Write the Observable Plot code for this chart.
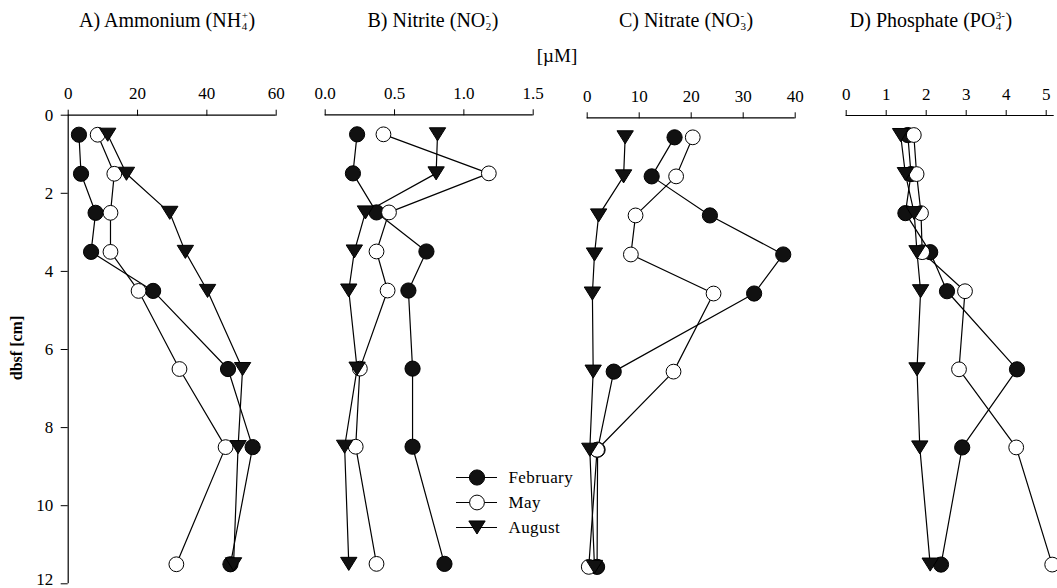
<!DOCTYPE html>
<html>
<head>
<meta charset="utf-8">
<script src="https://cdn.jsdelivr.net/npm/d3@7"></script>
<script src="https://cdn.jsdelivr.net/npm/@observablehq/plot@0.6"></script>
<style>
  body { margin: 0; background: #fff; }
  #fig { position: relative; width: 1057px; height: 588px; overflow: hidden;
         font-family: "Liberation Serif", "Times New Roman", serif; color: #000; background: #fff; }
  #fig svg { position: absolute; left: 0; top: 0; }
  .ttl { position: absolute; white-space: nowrap; font-size: 20px; line-height: 22px; transform: translateX(-50%); }
  .unit { font-size: 19px; line-height: 21px; }
  .ion { display: inline-block; vertical-align: -0.3em; font-size: 0.55em; line-height: 1; text-align: left; margin: 0 0.5px; }
  .ion span { display: block; }
  .ylab { position: absolute; font-weight: bold; font-size: 16px; white-space: nowrap;
          transform: translate(-50%, -50%) rotate(-90deg); }
</style>
</head>
<body>
<div id="fig"></div>
<script>
// Sampling depths below the sediment surface (cm) and sampling months
const depths = [0.5, 1.5, 2.5, 3.5, 4.5, 6.5, 8.5, 11.5];
const seasons = ["February", "May", "August"];
const depthTicks = [0, 2, 4, 6, 8, 10, 12];

// Porewater concentrations (µM), one value per depth
const ammoniumFeb = [3.1, 3.7, 7.9, 6.6, 24.5, 46.1, 53.2, 46.8];
const ammoniumMay = [8.5, 13.3, 12.2, 12.2, 20.3, 32.1, 45.4, 31.2];
const ammoniumAug = [11.4, 16.8, 29.3, 33.8, 40.2, 50.3, 49.0, 47.7];

const nitriteFeb = [0.23, 0.20, 0.37, 0.73, 0.60, 0.63, 0.63, 0.86];
const nitriteMay = [0.42, 1.18, 0.46, 0.37, 0.45, 0.25, 0.22, 0.37];
const nitriteAug = [0.81, 0.80, 0.29, 0.21, 0.17, 0.23, 0.14, 0.17];

const nitrateFeb = [16.8, 12.4, 23.6, 37.7, 32.1, 5.1, 2.0, 1.9];
const nitrateMay = [20.3, 17.1, 9.3, 8.4, 24.3, 16.6, 1.9, 0.3];
const nitrateAug = [7.3, 7.0, 2.2, 1.4, 1.0, 1.15, 0.5, 1.4];

const phosphateFeb = [1.54, 1.62, 1.48, 2.10, 2.52, 4.27, 2.90, 2.37];
const phosphateMay = [1.69, 1.76, 1.87, 1.90, 2.97, 2.82, 4.25, 5.15];
const phosphateAug = [1.36, 1.48, 1.70, 1.77, 1.86, 1.77, 1.84, 2.10];

// Axis ticks for each panel
const ammoniumTicks = [0, 20, 40, 60];
const nitriteTicks = [0, 0.5, 1.0, 1.5];
const nitrateTicks = [0, 10, 20, 30, 40];
const phosphateTicks = [0, 1, 2, 3, 4, 5];

// Figure geometry
const W = 1057, H = 588;
const PANEL_W = 208;     // width of each concentration axis
const DEPTH_H = 468.6;   // length of the 0–12 cm depth axis
const FONT = '"Liberation Serif", "Times New Roman", serif';

// Downward-pointing triangle symbol
const triangleDown = {
  draw(ctx, size) {
    const r = Math.sqrt(size / Math.PI);
    const w = r * 2.15, h = w * 0.8;
    ctx.moveTo(-w / 2, -h / 2);
    ctx.lineTo(w / 2, -h / 2);
    ctx.lineTo(0, h / 2);
    ctx.closePath();
  }
};

const markerStyle = {
  February: {symbol: "circle", fill: "#111", stroke: "#000", r: 7.6},
  May:      {symbol: "circle", fill: "#fff", stroke: "#000", r: 7.4},
  August:   {symbol: triangleDown, fill: "#111", stroke: "#000", r: 7.6}
};

const panels = [
  {title: ["A) Ammonium (NH", "+", "4", ")"], series: [ammoniumFeb, ammoniumMay, ammoniumAug],
   domain: [0, 60], ticks: ammoniumTicks, fmt: d3.format("d"), left: 67.7, top: 114.7, titleX: 167, yAxis: true},
  {title: ["B) Nitrite (NO", "-", "2", ")"], series: [nitriteFeb, nitriteMay, nitriteAug],
   domain: [0, 1.5], ticks: nitriteTicks, fmt: d3.format(".1f"), left: 324.7, top: 114.3, titleX: 433, yAxis: false},
  {title: ["C) Nitrate (NO", "-", "3", ")"], series: [nitrateFeb, nitrateMay, nitrateAug],
   domain: [0, 40], ticks: nitrateTicks, fmt: d3.format("d"), left: 586.7, top: 117.3, titleX: 686, yAxis: false},
  {title: ["D) Phosphate (PO", "3-", "4", ")"], series: [phosphateFeb, phosphateMay, phosphateAug],
   domain: [0, 5.2], ticks: phosphateTicks, fmt: d3.format("d"), left: 845.7, top: 115, titleX: 931, yAxis: false}
];

const fig = document.getElementById("fig");

function depthAxis() {
  const last = depthTicks[depthTicks.length - 1];
  const axisOpts = {anchor: "left", tickSize: 7, tickPadding: 8, label: null};
  return [
    Plot.axisY({...axisOpts, ticks: depthTicks.filter(t => t !== last)}),
    // the deepest label sits on the lower edge, so lift it slightly to keep it whole
    Plot.axisY({...axisOpts, ticks: [last], tickSize: 0, tickPadding: 15, dy: -4}),
    Plot.axisY({...axisOpts, ticks: [last], tickFormat: () => ""})
  ];
}

function panelPlot(p) {
  const rows = [];
  seasons.forEach((s, i) => depths.forEach((d, j) => rows.push({season: s, depth: d, value: p.series[i][j]})));
  return Plot.plot({
    width: W, height: H,
    marginLeft: p.left, marginRight: W - p.left - PANEL_W,
    marginTop: p.top, marginBottom: H - p.top - DEPTH_H,
    style: {background: "none", overflow: "visible", fontFamily: FONT, fontSize: "17px", color: "#000"},
    x: {domain: p.domain, ticks: p.ticks, tickFormat: p.fmt, axis: "top", tickSize: 6, tickPadding: 10, label: null},
    y: {domain: [0, 12], reverse: true, axis: null, label: null},
    marks: [
      Plot.ruleY([0], {stroke: "#000", strokeWidth: 1.2}),
      ...(p.yAxis ? [Plot.ruleX([0], {stroke: "#000", strokeWidth: 1.2}), ...depthAxis()] : []),
      Plot.line(rows, {x: "value", y: "depth", z: "season", stroke: "#000", strokeWidth: 1.2}),
      ...seasons.map(s => Plot.dot(rows.filter(r => r.season === s),
        {x: "value", y: "depth", strokeWidth: 1, ...markerStyle[s]}))
    ]
  });
}

panels.forEach(p => {
  fig.appendChild(panelPlot(p));
  const t = document.createElement("div");
  t.className = "ttl";
  t.style.left = p.titleX + "px";
  t.style.top = "9px";
  const [head, sup, sub, tail] = p.title;
  t.append(head);
  const ion = document.createElement("span");
  ion.className = "ion";
  const a = document.createElement("span"); a.textContent = sup;
  const b = document.createElement("span"); b.textContent = sub;
  ion.append(a, b);
  t.append(ion, tail);
  fig.appendChild(t);
});

// Shared unit label
const unit = document.createElement("div");
unit.className = "ttl unit";
unit.style.left = "557px";
unit.style.top = "45px";
unit.textContent = "[µM]";
fig.appendChild(unit);

// Depth axis title
const ylab = document.createElement("div");
ylab.className = "ylab";
ylab.style.left = "17px";
ylab.style.top = "348px";
ylab.textContent = "dbsf [cm]";
fig.appendChild(ylab);

// Legend
const legend = Plot.plot({
  width: 150, height: 70,
  marginLeft: 0, marginRight: 109, marginTop: 10, marginBottom: 10,
  style: {background: "none", overflow: "visible", fontFamily: FONT, fontSize: "17px", color: "#000", letterSpacing: "0.4px"},
  x: {domain: [0, 1], axis: null},
  y: {type: "point", domain: seasons, padding: 0, axis: null},
  marks: [
    Plot.ruleY(seasons, {x1: 0, x2: 1, stroke: "#000", strokeWidth: 1.2}),
    ...seasons.map(s => Plot.dot([s], {x: 0.5, y: d => d, strokeWidth: 1, ...markerStyle[s]})),
    Plot.text(seasons, {x: 1, y: d => d, text: d => d, textAnchor: "start", dx: 11, fontSize: 17})
  ]
});
legend.style.left = "456px";
legend.style.top = "466.7px";
fig.appendChild(legend);
</script>
</body>
</html>
